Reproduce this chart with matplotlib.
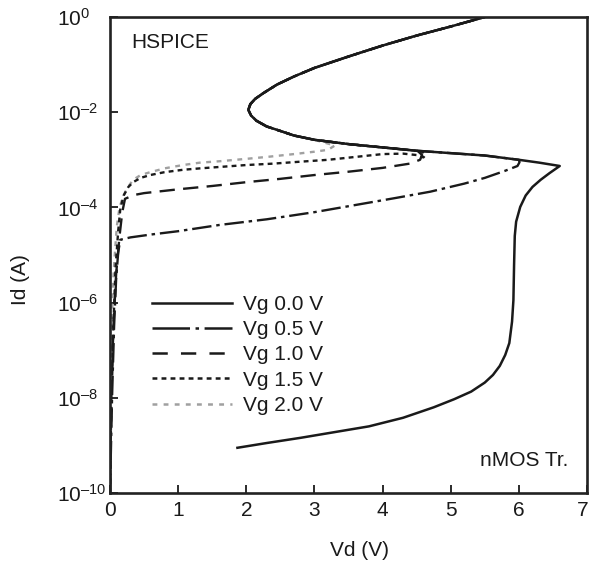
import numpy as np
import matplotlib
matplotlib.use("Agg")
import matplotlib.pyplot as plt
import matplotlib.transforms as mtransforms
from matplotlib.lines import Line2D
from matplotlib.ticker import FixedLocator, FixedFormatter

plt.rcParams['font.family'] = ['Liberation Sans', 'DejaVu Sans']
plt.rcParams['mathtext.fontset'] = 'custom'
plt.rcParams['mathtext.rm'] = 'Liberation Sans'
plt.rcParams['mathtext.it'] = 'Liberation Sans:italic'
plt.rcParams['mathtext.bf'] = 'Liberation Sans:bold'
plt.rcParams['lines.scale_dashes'] = False

# ---- data (Vd in V, Id as log10(A)) ----
shared_vd = [6.0, 5.5, 5.0, 4.5, 4.0, 3.5, 3.0, 2.7, 2.45, 2.3, 2.15, 2.07, 2.03,
             2.06, 2.13, 2.25, 2.45, 2.7, 3.0, 3.5, 4.0, 4.5, 5.0, 5.5]
shared_logid = [-3.0, -2.91, -2.86, -2.81, -2.74, -2.67, -2.58, -2.49, -2.37, -2.3, -2.18, -2.07, -1.95,
                -1.83, -1.72, -1.6, -1.42, -1.25, -1.07, -0.83, -0.6, -0.39, -0.2, 0.0]

vg00_vd = [1.87, 2.3, 2.8, 3.3, 3.8, 4.3, 4.75, 5.05, 5.3, 5.5, 5.62, 5.72, 5.8, 5.86, 5.9,
           5.92, 5.93, 5.94, 5.96, 6.02, 6.1, 6.2, 6.32, 6.45, 6.6, 6.3]
vg00_logid = [-9.05, -8.95, -8.84, -8.72, -8.6, -8.42, -8.2, -8.03, -7.87, -7.68, -7.52, -7.33, -7.1,
              -6.85, -6.4, -5.95, -5.2, -4.6, -4.3, -3.99, -3.75, -3.57, -3.42, -3.28, -3.13, -3.06]

vg05_vd = [0.0, 0.03, 0.06, 0.09, 0.12, 0.15, 0.3, 0.6, 1.0, 1.6, 2.3, 3.0, 3.6, 4.2, 4.7,
           5.2, 5.5, 5.8, 5.98, 6.01]
vg05_logid = [-10.0, -8.0, -6.5, -5.5, -4.95, -4.68, -4.63, -4.57, -4.5, -4.37, -4.25, -4.1, -3.95,
              -3.8, -3.67, -3.5, -3.38, -3.23, -3.13, -3.05]

vg10_vd = [0.0, 0.02, 0.05, 0.09, 0.14, 0.18, 0.22, 0.35, 0.5, 1.0, 1.5, 2.0, 2.5, 3.0, 3.5,
           4.0, 4.4, 4.55, 4.58, 4.52]
vg10_logid = [-10.0, -8.0, -6.5, -5.4, -4.6, -4.1, -3.82, -3.74, -3.7, -3.62, -3.55, -3.47, -3.4,
              -3.32, -3.25, -3.17, -3.08, -3.0, -2.9, -2.82]

vg15_vd = [0.0, 0.02, 0.05, 0.08, 0.12, 0.15, 0.2, 0.27, 0.34, 0.45, 0.59, 0.8, 1.07, 1.32, 1.61,
           2.0, 2.4, 2.79, 3.2, 3.6, 4.0, 4.3, 4.5, 4.6, 4.63, 4.58]
vg15_logid = [-10.0, -8.0, -6.5, -5.3, -4.5, -4.05, -3.75, -3.57, -3.47, -3.38, -3.32, -3.26, -3.21,
              -3.18, -3.15, -3.11, -3.08, -3.04, -3.0, -2.94, -2.88, -2.87, -2.9, -2.95, -2.9, -2.83]

vg20_vd = [0.02, 0.04, 0.07, 0.1, 0.14, 0.19, 0.25, 0.34, 0.45, 0.59, 0.8, 1.07, 1.32, 1.61, 2.0,
           2.3, 2.7, 3.0, 3.2, 3.3]
vg20_logid = [-7.0, -5.7, -5.0, -4.4, -4.0, -3.78, -3.6, -3.42, -3.32, -3.26, -3.18, -3.11, -3.06,
              -3.03, -2.98, -2.94, -2.88, -2.83, -2.79, -2.7]

legend_labels = ["Vg 0.0 V", "Vg 0.5 V", "Vg 1.0 V", "Vg 1.5 V", "Vg 2.0 V"]
xticks = [0, 1, 2, 3, 4, 5, 6, 7]
yticks_exp = [0, -2, -4, -6, -8, -10]


def full_curve(vd, logid):
    last = vd[-1]
    k = next(i for i, v in enumerate(shared_vd) if v < last)
    x = np.array(list(vd) + shared_vd[k:])
    y = 10.0 ** np.array(list(logid) + shared_logid[k:])
    return x, y


W, H = 591, 565
FS = 15
fig = plt.figure(figsize=(W / 100, H / 100), dpi=100)
ax = fig.add_axes([110 / W, 1 - 493 / H, 477 / W, 476 / H])
ax.set_yscale('log')
ax.set_xlim(0, 7)
ax.set_ylim(1e-10, 1e0)

black = '#1a1a1a'
gray = '#a0a0a0'

styles = [
    dict(color=gray, lw=1.7, dashes=(3.5, 4.0)),
    dict(color=black, lw=1.7, dashes=(3.5, 3.0)),
    dict(color=black, lw=1.7, dashes=(11, 6)),
    dict(color=black, lw=1.7, dashes=(14, 3.5, 2.5, 3.5)),
    dict(color=black, lw=1.8, linestyle='-'),
]
series = [(vg20_vd, vg20_logid), (vg15_vd, vg15_logid), (vg10_vd, vg10_logid),
          (vg05_vd, vg05_logid), (vg00_vd, vg00_logid)]
for (vd, lid), st in zip(series, styles):
    x, y = full_curve(vd, lid)
    ax.plot(x, y, solid_joinstyle='round', dash_joinstyle='round', **st)

# legend proxies (legend glyphs in the reference use longer dashes for dash-dot)
leg_styles = [
    dict(color=black, lw=1.8, linestyle='-'),
    dict(color=black, lw=1.8, dashes=(27, 4, 2.5, 4)),
    dict(color=black, lw=1.8, dashes=(11, 9.5)),
    dict(color=black, lw=1.8, dashes=(3.5, 3.0)),
    dict(color=gray, lw=1.8, dashes=(3.5, 4.5)),
]
handles = [Line2D([], [], **st) for st in leg_styles]
leg = ax.legend(handles, legend_labels, loc='upper left',
                bbox_to_anchor=(152 / W, 1 - 295 / H), bbox_transform=fig.transFigure,
                frameon=False, fontsize=FS, handlelength=3.85, handletextpad=0.5,
                labelspacing=0.3, borderpad=0, borderaxespad=0)
for t in leg.get_texts():
    t.set_color(black)

# ticks
ax.xaxis.set_major_locator(FixedLocator(xticks))
ax.xaxis.set_major_formatter(FixedFormatter([str(t) for t in xticks]))
ax.yaxis.set_major_locator(FixedLocator([10.0 ** e for e in yticks_exp]))
ax.yaxis.set_major_formatter(FixedFormatter(
    [r'$\mathregular{10^{%s}}$' % (str(e).replace('-', '\u2013')) for e in yticks_exp]))
ax.yaxis.set_minor_locator(FixedLocator([]))
ax.tick_params(axis='both', which='major', direction='in', length=6, width=1.3,
               color=black, labelsize=FS, labelcolor=black)
ax.tick_params(axis='x', pad=6)
ax.tick_params(axis='y', pad=38)
for lbl in ax.get_yticklabels():
    lbl.set_horizontalalignment('left')

# keep the last x tick label inside the canvas
last_lbl = ax.get_xticklabels()[-1]
last_lbl.set_transform(last_lbl.get_transform() +
                       mtransforms.ScaledTranslation(-4 / 100, 0, fig.dpi_scale_trans))

for sp in ax.spines.values():
    sp.set_linewidth(1.9)
    sp.set_color('#222222')

fig.text(359 / W, 1 - 551 / H, 'Vd (V)', fontsize=FS, ha='center', va='center', color=black)
fig.text(21 / W, 1 - 280 / H, 'Id (A)', fontsize=FS, ha='center', va='center',
         rotation=90, color=black)
fig.text(131 / W, 1 - 43 / H, 'HSPICE', fontsize=FS, ha='left', va='center', color=black)
fig.text(568 / W, 1 - 461 / H, 'nMOS Tr.', fontsize=FS, ha='right', va='center', color=black)

fig.savefig('out.png', dpi=100)
